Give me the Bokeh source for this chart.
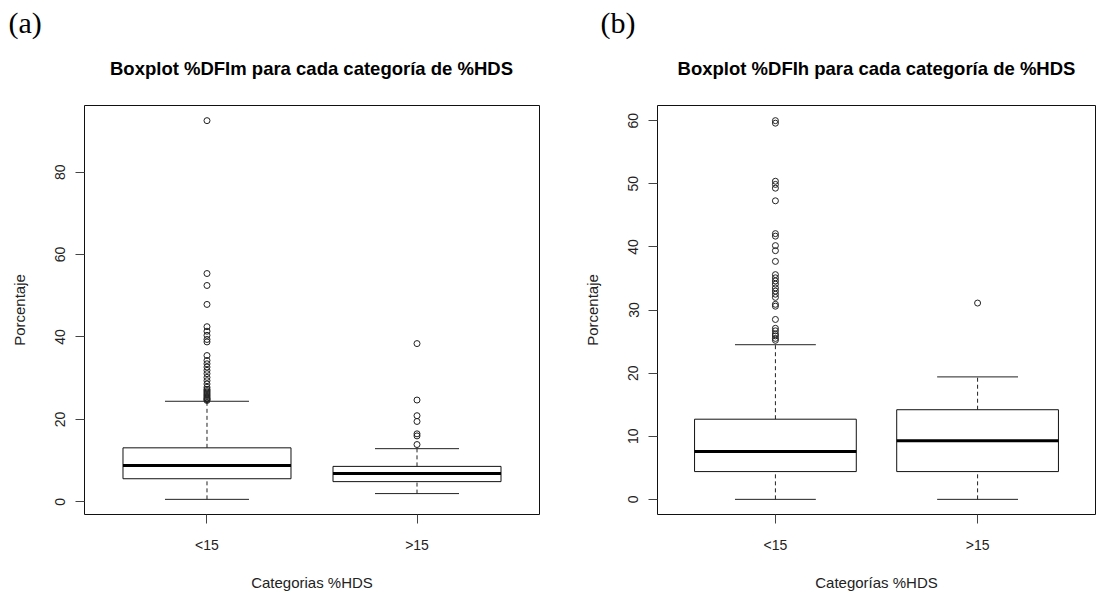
from bokeh.plotting import figure
from bokeh.models import Range1d, FixedTicker, Label, ColumnDataSource
from bokeh.layouts import row, column
from bokeh.embed import file_html
from bokeh.resources import INLINE

categories = ["<15", ">15"]

# Panel (a): %DFIm by %HDS category
dfim_lower = [0.6, 2.0]
dfim_q1 = [5.6, 4.9]
dfim_median = [8.8, 6.9]
dfim_q3 = [13.1, 8.6]
dfim_upper = [24.4, 12.9]
dfim_out_lt15 = [92.5, 55.4, 52.5, 47.9, 42.5, 41.4, 40.4, 39.4, 38.8, 35.5,
                 34.3, 33.5, 32.7, 31.9, 31.1, 30.2, 29.4, 28.6, 27.8, 27.3,
                 27.0, 26.7, 26.4, 26.1, 25.8, 25.5, 25.2, 25.0, 24.8, 24.6]
dfim_out_gt15 = [38.4, 24.7, 20.9, 19.5, 16.5, 16.0, 13.9]
dfim_ticks = [0, 20, 40, 60, 80]

# Panel (b): %DFIh by %HDS category
dfih_lower = [0.0, 0.0]
dfih_q1 = [4.4, 4.4]
dfih_median = [7.6, 9.3]
dfih_q3 = [12.7, 14.2]
dfih_upper = [24.5, 19.4]
dfih_out_lt15 = [60.0, 59.6, 50.4, 49.9, 49.3, 47.3, 42.1, 41.7, 40.2, 39.4,
                 37.7, 35.6, 35.1, 34.6, 34.1, 33.5, 33.0, 32.5, 32.0, 30.9,
                 30.6, 28.5, 27.1, 26.7, 26.2, 25.9, 25.5, 25.2]
dfih_out_gt15 = [31.1]
dfih_ticks = [0, 10, 20, 30, 40, 50, 60]

titles = ["Boxplot %DFIm para cada categoría de %HDS",
          "Boxplot %DFIh para cada categoría de %HDS"]
tags = ["(a)", "(b)"]
xlabels = ["Categorias %HDS", "Categorías %HDS"]

SANS = "Liberation Sans"
SERIF = "Liberation Serif"
BOXWEX = 0.8
STAPLE = 0.4
HEADER_H = 85
TOTAL_W, TOTAL_H = 1097, 594


def make_panel(width, border_left, border_right, lower, q1, med, q3, upper,
               out_lt, out_gt, ticks, xlabel):
    height = TOTAL_H - HEADER_H
    border_top, border_bottom = 105 - HEADER_H, 80
    pos = [1, 2]
    allv = lower + upper + out_lt + out_gt
    lo, hi = min(allv), max(allv)
    ext = (hi - lo) * 0.04
    y0, y1 = lo - ext, hi + ext
    x0, x1 = 0.4167, 2.5833

    p = figure(width=width, height=height, output_backend="svg", toolbar_location=None,
               x_range=Range1d(x0, x1), y_range=Range1d(y0, y1),
               min_border_left=border_left, min_border_right=border_right,
               min_border_top=border_top, min_border_bottom=border_bottom)
    p.title.visible = False
    p.grid.visible = False
    p.background_fill_color = "white"
    p.border_fill_color = "white"
    p.outline_line_color = "#111111"
    p.outline_line_width = 1

    src = ColumnDataSource(dict(
        x=pos,
        left=[v - BOXWEX / 2 for v in pos], right=[v + BOXWEX / 2 for v in pos],
        cl=[v - STAPLE / 2 for v in pos], cr=[v + STAPLE / 2 for v in pos],
        lower=lower, q1=q1, med=med, q3=q3, upper=upper))

    # whiskers (dashed)
    p.segment(x0="x", y0="q3", x1="x", y1="upper", source=src,
              line_color="#222222", line_width=1, line_dash="4 3")
    p.segment(x0="x", y0="lower", x1="x", y1="q1", source=src,
              line_color="#222222", line_width=1, line_dash="4 3")
    # staples
    p.segment(x0="cl", y0="upper", x1="cr", y1="upper", source=src,
              line_color="#222222", line_width=1)
    p.segment(x0="cl", y0="lower", x1="cr", y1="lower", source=src,
              line_color="#222222", line_width=1)
    # boxes
    p.quad(left="left", right="right", bottom="q1", top="q3", source=src,
           fill_color="white", line_color="#111111", line_width=1)
    # medians
    p.segment(x0="left", y0="med", x1="right", y1="med", source=src,
              line_color="black", line_width=3)
    # outliers
    ox = [1] * len(out_lt) + [2] * len(out_gt)
    oy = out_lt + out_gt
    p.scatter(x=ox, y=oy, marker="circle", size=6, fill_color=None,
              line_color="#222222", line_width=1)

    # axes
    p.xaxis.ticker = FixedTicker(ticks=pos)
    p.xaxis.major_label_overrides = {1: categories[0], 2: categories[1]}
    p.yaxis.ticker = FixedTicker(ticks=ticks)
    for ax in (p.xaxis[0], p.yaxis[0]):
        ax.axis_line_color = None
        ax.minor_tick_line_color = None
        ax.major_tick_in = 0
        ax.major_tick_out = 9
        ax.major_tick_line_color = "#444444"
        ax.major_label_text_font = SANS
        ax.major_label_text_font_size = "14px"
        ax.major_label_text_color = "#222222"
        ax.axis_label_text_font = SANS
        ax.axis_label_text_font_size = "15px"
        ax.axis_label_text_font_style = "normal"
        ax.axis_label_text_color = "#222222"
    p.yaxis.major_label_orientation = "vertical"
    p.xaxis.major_label_standoff = 13
    p.yaxis.major_label_standoff = 10
    p.xaxis.axis_label = xlabel
    p.yaxis.axis_label = "Porcentaje"
    p.xaxis.axis_label_standoff = 18
    p.yaxis.axis_label_standoff = 25
    return p


# header strip carrying the panel tags and the panel titles
header = figure(width=TOTAL_W, height=HEADER_H, output_backend="svg", toolbar_location=None,
                x_range=Range1d(0, TOTAL_W), y_range=Range1d(HEADER_H, 0),
                x_axis_type=None, y_axis_type=None,
                min_border_left=0, min_border_right=0, min_border_top=0, min_border_bottom=0)
header.title.visible = False
header.grid.visible = False
header.outline_line_color = None
header.background_fill_color = "white"
header.border_fill_color = "white"
for txt, cx in zip(titles, [311, 876]):
    header.add_layout(Label(x=cx, y=68, text=txt, text_align="center", text_baseline="middle",
                            text_font=SANS, text_font_style="bold", text_font_size="18.5px",
                            text_color="black"))
for txt, lx in zip(tags, [8, 600]):
    header.add_layout(Label(x=lx, y=22, text=txt, text_align="left", text_baseline="middle",
                            text_font=SERIF, text_font_size="30px", text_color="black"))

p1 = make_panel(570, 84, 31, dfim_lower, dfim_q1, dfim_median, dfim_q3, dfim_upper,
                dfim_out_lt15, dfim_out_gt15, dfim_ticks, xlabels[0])
p2 = make_panel(527, 87, 2, dfih_lower, dfih_q1, dfih_median, dfih_q3, dfih_upper,
                dfih_out_lt15, dfih_out_gt15, dfih_ticks, xlabels[1])

layout = column(header, row(p1, p2))
open("out.html", "w").write(file_html(layout, INLINE))
